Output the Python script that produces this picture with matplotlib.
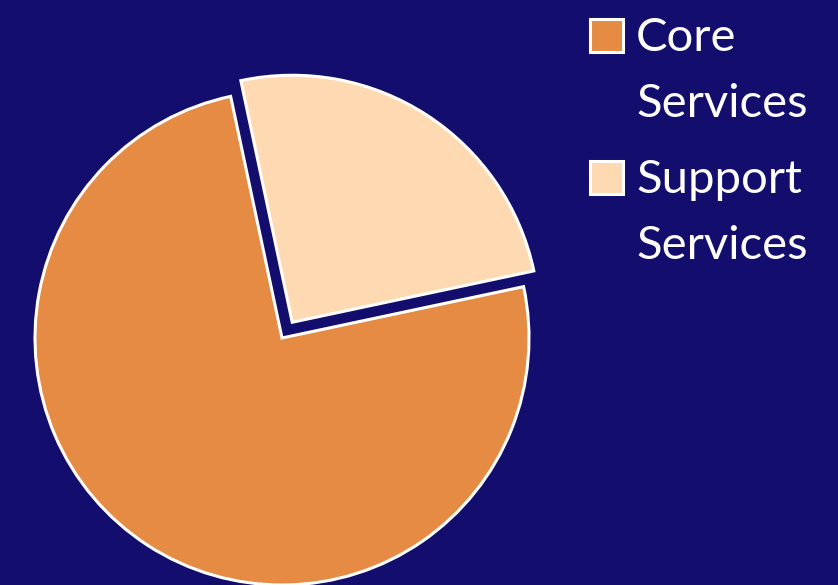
"""Core vs support services pie, dark navy background."""
import matplotlib
matplotlib.use("Agg")
import matplotlib.pyplot as plt
from matplotlib.patches import Rectangle

categories = ["Core\nServices", "Support\nServices"]
shares = [75, 25]
colors = ["#E58B43", "#FFD9B2"]
explode = [0, 0.076]

BG = "#130D6E"
W, H = 838, 585
DPI = 100

plt.rcParams["font.family"] = ["Lato", "DejaVu Sans"]

fig = plt.figure(figsize=(W / DPI, H / DPI), dpi=DPI, facecolor=BG)
ax = fig.add_axes([0, 0, 1, 1])
ax.set_facecolor(BG)

wedges, _ = ax.pie(shares, colors=colors, explode=explode, startangle=12,
                   counterclock=False, radius=1,
                   wedgeprops=dict(edgecolor="white", linewidth=2.2))

# pie centre at (282, 338) px from top-left, radius ~247 px
r = 247
cx, cy = 282, H - 338
ax.set_xlim(-cx / r, (W - cx) / r)
ax.set_ylim(-cy / r, (H - cy) / r)
ax.set_aspect("equal")
ax.axis("off")

# legend: square aligned to first line of each two-line label
leg_x, sq = 590, 33
tops = [19, 161]
for top, lab, c in zip(tops, categories, colors):
    fig.patches.append(Rectangle((leg_x / W, 1 - (top + sq) / H), sq / W, sq / H,
                                 transform=fig.transFigure, facecolor=c,
                                 edgecolor="white", linewidth=2.2))
    # baseline of the second line
    fig.text(636 / W, 1 - (top + 98) / H, lab, color="white", fontsize=34,
             va="baseline", ha="left", linespacing=1.7)

fig.savefig("out.png", dpi=DPI, facecolor=BG)
